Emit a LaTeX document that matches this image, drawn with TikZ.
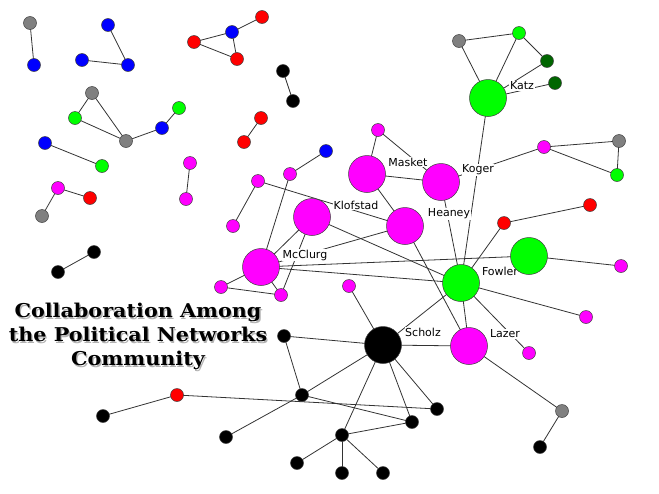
\documentclass[tikz,border=0pt]{standalone}
\usepackage{fontspec}
\usepackage{graphicx}
\setmainfont{DejaVu Sans}
\newfontfamily\titlefont{DejaVu Serif}
\definecolor{mag}{HTML}{FF00FF}
\definecolor{lim}{HTML}{00FF00}
\definecolor{dgr}{HTML}{006600}
\definecolor{blu}{HTML}{0000FF}
\definecolor{rd}{HTML}{FF0000}
\definecolor{gry}{HTML}{808080}
\definecolor{edgec}{HTML}{333333}
\newcommand{\titletext}{\scalebox{1.09}[1]{\begin{tabular}{@{}c@{}}Collaboration Among\\the Political Networks\\Community\end{tabular}}}
\tikzset{
  sm/.style={circle,draw=black!75,line width=0.5pt,minimum size=13pt,inner sep=0pt},
  bg/.style={circle,draw=black!75,line width=0.5pt,minimum size=37pt,inner sep=0pt},
  lbl/.style={fill=white,inner sep=0.6pt,font=\fontsize{11}{12}\selectfont},
  ed/.style={draw=edgec,line width=0.8pt},
  ttl/.style={inner sep=0pt,font=\titlefont\bfseries\fontsize{19}{24}\selectfont}
}
\begin{document}
\begin{tikzpicture}[x=1pt,y=-1pt]
\useasboundingbox (0,0) rectangle (659,493);
% coordinates of nodes
\foreach \n/\x/\y in {g1/30/23,b1/34/65,b2/108/25,b3/128/65,b4/82/60,r1/262/17,b5/232/32,r2/194/42,r3/237/59,
 k1/283/71,k2/293/101,g2/92/93,gr1/75/118,g3/126/141,b6/162/128,gr2/179/108,r4/261/118,r5/244/142,
 b7/45/143,gr3/102/166,m1/190/163,m2/186/199,m3/58/188,r6/90/198,g4/42/216,b8/326/151,m4/290/174,
 m5/258/181,m6/233/226,m7/281/295,m8/221/287,m9/349/286,k14/94/252,k15/58/272,g5/459/41,gr4/519/33,
 dg1/547/61,dg2/555/83,m10/378/130,m11/544/147,g6/619/141,gr5/617/175,r7/504/223,r8/590/205,
 m14/621/266,m13/586/317,m12/529/353,g7/562/411,k16/540/447,k8/284/336,k9/302/395,k3/437/409,
 k4/412/422,k5/342/435,k10/297/463,k6/342/473,k7/383/473,k11/226/437,r9/177/395,k12/103/416,
 Katz/488/98,Masket/367/174,Koger/441/182,Klofstad/312/217,Heaney/405/226,McClurg/261/267,
 GB/529/256,Fowler/461/283,Scholz/383/345,Lazer/469/346}
 {\coordinate (\n) at (\x,\y);}
% edges
\foreach \a/\b in {g1/b1,b2/b3,b4/b3,b5/r1,r2/b5,r2/r3,b5/r3,k1/k2,g2/gr1,g2/g3,gr1/g3,g3/b6,b6/gr2,r4/r5,
 b7/gr3,m1/m2,m3/r6,m3/g4,k14/k15,b8/m4,m5/m6,m5/Heaney,m4/McClurg,
 g5/gr4,g5/Katz,gr4/Katz,gr4/dg1,dg1/Katz,Katz/dg2,Katz/Fowler,
 m10/Masket,m10/Koger,Masket/Koger,Masket/Heaney,Koger/m11,m11/g6,m11/gr5,g6/gr5,Koger/Fowler,
 Klofstad/McClurg,Klofstad/m7,Klofstad/Fowler,Heaney/McClurg,Heaney/Lazer,
 McClurg/m8,McClurg/m7,m8/m7,McClurg/GB,McClurg/Fowler,
 r7/r8,r7/Fowler,GB/m14,Fowler/m13,Fowler/m12,Fowler/Lazer,Fowler/Scholz,
 Scholz/Lazer,Lazer/g7,g7/k16,m9/Scholz,
 k8/Scholz,k8/k9,k9/Scholz,Scholz/k5,Scholz/k4,Scholz/k3,k9/k4,k5/k4,k5/k10,k5/k6,k5/k7,r9/k3,k9/k11,r9/k12}
 {\draw[ed] (\a) -- (\b);}
% labels
\node[lbl] (lKatz) at (522,86) {Katz};
\node[lbl] (lMasket) at (408,162) {Masket};
\node[lbl] (lKoger) at (478,170) {Koger};
\node[lbl] (lKlofstad) at (356,205) {Klofstad};
\node[lbl] (lHeaney) at (449,214) {Heaney};
\node[lbl] (lMcClurg) at (305,255) {McClurg};
\node[lbl] (lFowler) at (500,271) {Fowler};
\node[lbl] (lScholz) at (423,332) {Scholz};
\node[lbl] (lLazer) at (505,334) {Lazer};
% small nodes
\foreach \n/\c in {g1/gry,b1/blu,b2/blu,b3/blu,b4/blu,r1/rd,b5/blu,r2/rd,r3/rd,k1/black,k2/black,g2/gry,
 gr1/lim,g3/gry,b6/blu,gr2/lim,r4/rd,r5/rd,b7/blu,gr3/lim,m1/mag,m2/mag,m3/mag,r6/rd,g4/gry,b8/blu,
 m4/mag,m5/mag,m6/mag,m7/mag,m8/mag,m9/mag,k14/black,k15/black,g5/gry,gr4/lim,dg1/dgr,dg2/dgr,
 m10/mag,m11/mag,g6/gry,gr5/lim,r7/rd,r8/rd,m14/mag,m13/mag,m12/mag,g7/gry,k16/black,k8/black,
 k9/black,k3/black,k4/black,k5/black,k10/black,k6/black,k7/black,k11/black,r9/rd,k12/black}
 {\node[sm,fill=\c] (n\n) at (\n) {};}
% big nodes
\foreach \n/\c in {Katz/lim,Masket/mag,Koger/mag,Klofstad/mag,Heaney/mag,McClurg/mag,GB/lim,Fowler/lim,Scholz/black,Lazer/mag}
 {\node[bg,fill=\c] (n\n) at (\n) {};}
% title
\node[ttl,text=black!30] (tshadow) at (139.3,338.3) {\titletext};
\node[ttl] (title) at (138,337) {\titletext};
\end{tikzpicture}
\end{document}
